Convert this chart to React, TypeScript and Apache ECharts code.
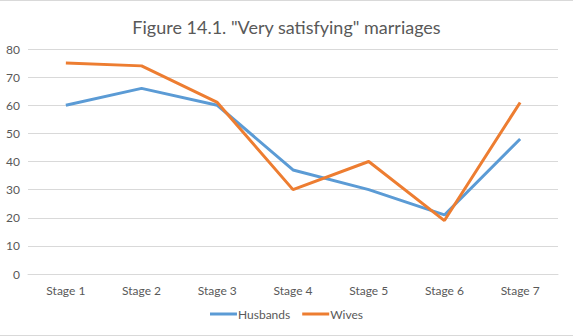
import React, { useEffect, useRef } from "react";
import * as echarts from "echarts";

const categories = ["Stage 1", "Stage 2", "Stage 3", "Stage 4", "Stage 5", "Stage 6", "Stage 7"];
const husbands = [60, 66, 60, 37, 30, 21, 48];
const wives = [75, 74, 61, 30, 40, 19, 61];
const titleText = 'Figure 14.1. "Very satisfying" marriages';

const FONT = "Lato, 'Open Sans', sans-serif";

export default function App() {
  const ref = useRef<HTMLDivElement>(null);
  useEffect(() => {
    document.body.style.margin = "0";
    const chart = echarts.init(ref.current!, undefined, { renderer: "svg" });
    chart.setOption({
      animation: false,
      backgroundColor: "#ffffff",
      title: {
        text: titleText,
        left: "center",
        top: 13,
        textStyle: { fontFamily: FONT, fontSize: 18, fontWeight: "normal", color: "#595959" },
      },
      legend: {
        bottom: 11,
        left: "center",
        itemWidth: 27,
        itemHeight: 3,
        itemGap: 12,
        icon: "rect",
        textStyle: { fontFamily: FONT, fontSize: 12, color: "#595959", padding: [0, 0, 0, -4] },
        data: ["Husbands", "Wives"],
      },
      grid: { left: 28, right: 15, top: 49, bottom: 62, containLabel: false },
      xAxis: {
        type: "category",
        data: categories,
        boundaryGap: true,
        axisLine: { show: true, lineStyle: { color: "#D9D9D9", width: 1 } },
        axisTick: { show: false },
        axisLabel: { fontFamily: FONT, fontSize: 12, color: "#595959", margin: 10 },
      },
      yAxis: {
        type: "value",
        min: 0,
        max: 80,
        interval: 10,
        axisLine: { show: false },
        axisTick: { show: false },
        splitLine: { lineStyle: { color: "#D9D9D9", width: 1 } },
        axisLabel: { fontFamily: FONT, fontSize: 12, color: "#595959", margin: 8 },
      },
      series: [
        {
          name: "Husbands",
          type: "line",
          data: husbands,
          symbol: "none",
          lineStyle: { color: "#5B9BD5", width: 3 },
          itemStyle: { color: "#5B9BD5" },
        },
        {
          name: "Wives",
          type: "line",
          data: wives,
          symbol: "none",
          lineStyle: { color: "#ED7D31", width: 3 },
          itemStyle: { color: "#ED7D31" },
        },
      ],
      graphic: [
        { type: "rect", shape: { x: 0, y: 0, width: 573, height: 1 }, style: { fill: "#D9D9D9" } },
        { type: "rect", shape: { x: 0, y: 335, width: 573, height: 1 }, style: { fill: "#D9D9D9" } },
      ],
    });
    return () => chart.dispose();
  }, []);
  return <div ref={ref} style={{ width: 573, height: 336 }} />;
}
